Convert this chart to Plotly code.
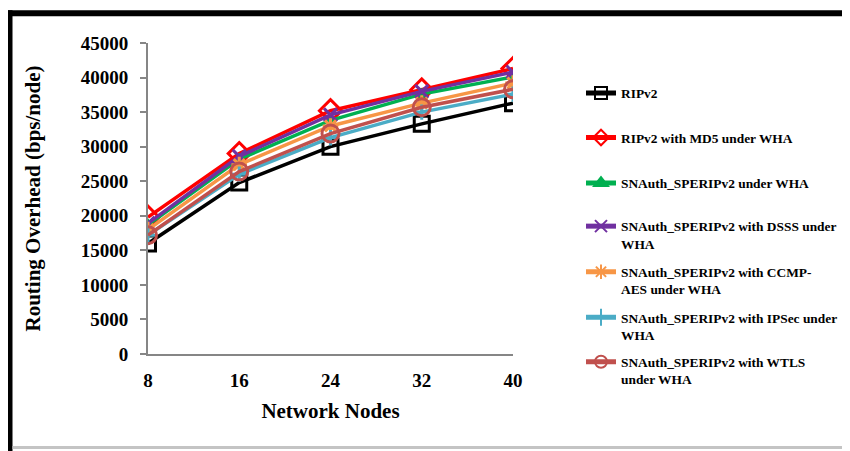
import plotly.graph_objects as go

nodes = [8, 16, 24, 32, 40]
ripv2 = [16000, 24800, 30000, 33300, 36300]
ripv2_md5 = [19800, 29000, 35200, 38200, 41300]
snauth = [18700, 28200, 33800, 37600, 40100]
snauth_dsss = [18900, 28600, 34600, 38000, 40800]
snauth_ccmp = [18000, 27400, 33000, 36300, 39200]
snauth_ipsec = [17200, 26000, 31300, 35000, 37600]
snauth_wtls = [17200, 26400, 31900, 35700, 38300]

names = [
    "RIPv2",
    "RIPv2 with MD5 under WHA",
    "SNAuth_SPERIPv2 under WHA",
    "SNAuth_SPERIPv2 with DSSS under<br>WHA",
    "SNAuth_SPERIPv2 with CCMP-<br>AES under WHA",
    "SNAuth_SPERIPv2 with IPSec under<br>WHA",
    "SNAuth_SPERIPv2 with WTLS<br>under WHA",
]
series = [ripv2, ripv2_md5, snauth, snauth_dsss, snauth_ccmp, snauth_ipsec, snauth_wtls]
colors = ["#000000", "#FF0000", "#00B050", "#7030A0", "#F79646", "#4BACC6", "#C0504D"]
symbols = ["square-open", "diamond-open", "triangle-up", "x-thin", "asterisk", "cross-thin", "circle-open"]
sizes = [15, 17, 8, 13, 13, 11, 17]

# page body adds an 8px offset; layout works in screen coordinates
OFF = 8
W, H = 850, 451
sx0, sx1 = 148, 513      # plot area left/right on screen
sy0, sy1 = 42.7, 354.3   # plot area top/bottom on screen
L = sx0 - OFF
R = W - (sx1 - OFF)
T = sy0 - OFF
B = H - (sy1 - OFF)
pw, ph = sx1 - sx0, sy1 - sy0

def px(x):
    return (x - sx0) / pw

def py(y):
    return (sy1 - y) / ph

legend_centers = [93, 137.7, 183.3, 235, 280.7, 326.3, 370.8]

fig = go.Figure()
font_family = "Liberation Serif, Times New Roman, serif"
for i, (nm, ys, c, s, sz) in enumerate(zip(names, series, colors, symbols, sizes)):
    lg = "legend" if i == 0 else f"legend{i+1}"
    fig.add_trace(go.Scatter(
        x=nodes, y=ys, name=nm, mode="lines+markers",
        line=dict(color=c, width=3.5),
        marker=dict(symbol=s, size=sz, color=c, line=dict(color=c, width=3)),
        legend=lg, showlegend=True,
    ))

layout_legends = {}
for i, yc in enumerate(legend_centers):
    key = "legend" if i == 0 else f"legend{i+1}"
    layout_legends[key] = dict(
        x=px(581), y=py(yc), xanchor="left", yanchor="middle",
        font=dict(family=font_family, size=13.4, color="#000000", weight="bold"),
        bgcolor="rgba(0,0,0,0)", valign="top", itemsizing="constant",
        borderwidth=0,
    )

fig.update_layout(
    width=W, height=H,
    margin=dict(l=L, r=R, t=T, b=B, autoexpand=False),
    paper_bgcolor="white", plot_bgcolor="white",
    font=dict(family=font_family, color="#000000"),
    **layout_legends,
)

fig.update_xaxes(
    range=[8, 40], tickvals=nodes, ticktext=[str(n) for n in nodes],
    showgrid=False, zeroline=False, automargin=False,
    showline=True, linecolor="#868686", linewidth=2,
    ticks="", ticklabelstandoff=8,
    tickfont=dict(family=font_family, size=19, color="#000000", weight="bold"),
    title=dict(text="<b>Network Nodes</b>", standoff=14,
               font=dict(family=font_family, size=21, color="#000000")),
)
fig.update_yaxes(
    range=[0, 45000], dtick=5000, tickformat="d",
    showgrid=False, zeroline=False, automargin=False,
    showline=True, linecolor="#868686", linewidth=2,
    ticks="outside", ticklen=6, tickwidth=2, tickcolor="#868686",
    ticklabelstandoff=8,
    tickfont=dict(family=font_family, size=19, color="#000000", weight="bold"),
    title=dict(text="<b>Routing Overhead (bps/node)</b>", standoff=34,
               font=dict(family=font_family, size=21, color="#000000")),
)

# frame around the chart
fig.add_shape(type="line", xref="paper", yref="paper",
              x0=px(9.5), x1=px(9.5), y0=py(10), y1=py(470),
              line=dict(color="#000000", width=6))
fig.add_shape(type="line", xref="paper", yref="paper",
              x0=px(6.5), x1=px(870), y0=py(13), y1=py(13),
              line=dict(color="#000000", width=6))
fig.add_shape(type="line", xref="paper", yref="paper",
              x0=px(12.5), x1=px(870), y0=py(448), y1=py(448),
              line=dict(color="#c4c4c4", width=3))

fig.write_html("out.html")
